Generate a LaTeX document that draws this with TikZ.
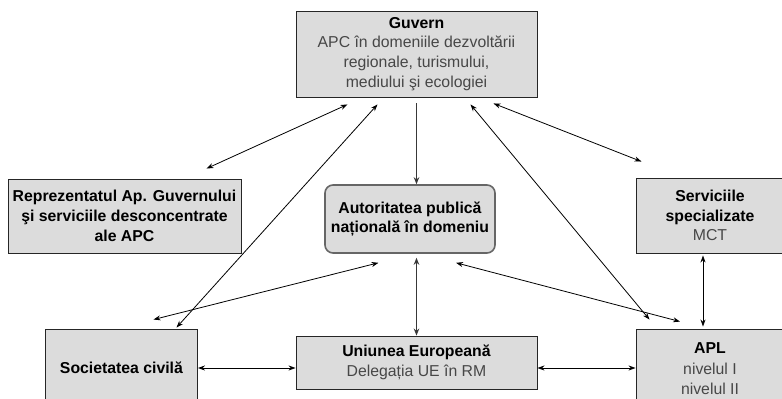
\documentclass[tikz,border=0pt]{standalone}
\usepackage{fontspec}
\setmainfont{Liberation Sans}
\usetikzlibrary{arrows.meta}
\definecolor{boxfill}{HTML}{DCDCDC}
\newcommand\softtxt[1]{\textcolor{black!72}{#1}}
\begin{document}
\begin{tikzpicture}[x=1pt, y=-1pt,
    every node/.style = {shape=rectangle, draw=black!85, fill=boxfill,
      line width=0.9pt, align=center, inner sep=2pt,
      font=\fontsize{15.8}{19.8}\selectfont},
    apcbox/.style = {rounded corners=8pt, draw=black!60, line width=1.6pt},
    link/.style = {{Stealth[length=7pt,width=5pt]}-{Stealth[length=7pt,width=5pt]},
      line width=0.8pt},
    down/.style = {-{Stealth[length=7pt,width=5.5pt]}, line width=1.7pt, draw=black!78},
    updown/.style = {down, {Stealth[length=7pt,width=5.5pt]}-{Stealth[length=7pt,width=5.5pt]}}]
    \useasboundingbox (0,0) rectangle (782,399);
    \node[minimum width=241, minimum height=86] (guvern) at (416.5,54)
        {\textbf{Guvern}\\ \softtxt{APC în domeniile dezvoltării}\\
         \softtxt{regionale, turismului,}\\ \softtxt{mediului şi ecologiei}};
    \node[minimum width=233, minimum height=74] (rep) at (124.5,216)
        {\textbf{Reprezentatul Ap. Guvernului}\\ \textbf{şi serviciile desconcentrate}\\
         \textbf{ale APC}};
    \node[apcbox, minimum width=170, minimum height=68] (apn) at (410,219)
        {\textbf{Autoritatea publică}\\ \textbf{națională în domeniu}};
    \node[minimum width=148, minimum height=75] (serv) at (710,215.5)
        {\textbf{Serviciile}\\ \textbf{specializate}\\ \softtxt{MCT}};
    \node[minimum width=152, minimum height=78] (soc) at (121.5,368)
        {\textbf{Societatea civilă}};
    \node[minimum width=241, minimum height=53] (ue) at (416.5,362.5)
        {\textbf{Uniunea Europeană}\\ \softtxt{Delegația UE în RM}};
    \node[minimum width=148, minimum height=80, font=\fontsize{15.8}{20.5}\selectfont] (apl) at (710,369)
        {\textbf{APL}\\ \softtxt{nivelul I}\\ \softtxt{nivelul II}};

    \draw[down, shorten <=6pt] (guvern.south) -- (guvern.south |- apn.north);
    \draw[updown, shorten <=4pt] (apn.south -| ue.north) -- (ue.north);
    \draw[link] ([shift={(-69,7)}]guvern.south) -- ([shift={(82,-10)}]rep.north);
    \draw[link] ([shift={(-39,7)}]guvern.south) -- ([shift={(55,-1)}]soc.north);
    \draw[link] ([shift={(54,7)}]guvern.south) -- ([shift={(-60.5,-9)}]apl.north);
    \draw[link] ([shift={(77,6)}]guvern.south) -- ([shift={(-68.5,-16)}]serv.north);
    \draw[link] ([shift={(-31.5,9)}]apn.south) -- ([shift={(32,-9)}]soc.north);
    \draw[link] ([shift={(46,9)}]apn.south) -- ([shift={(-30,-7)}]apl.north);
    \draw[link, shorten <=2pt, shorten >=2pt] ([xshift=-7pt]serv.south) -- ([xshift=-7pt]apl.north);
    \draw[link] (soc.east) -- (soc.east -| ue.west);
    \draw[link] (soc.east -| ue.east) -- (soc.east -| apl.west);
\end{tikzpicture}
\end{document}
